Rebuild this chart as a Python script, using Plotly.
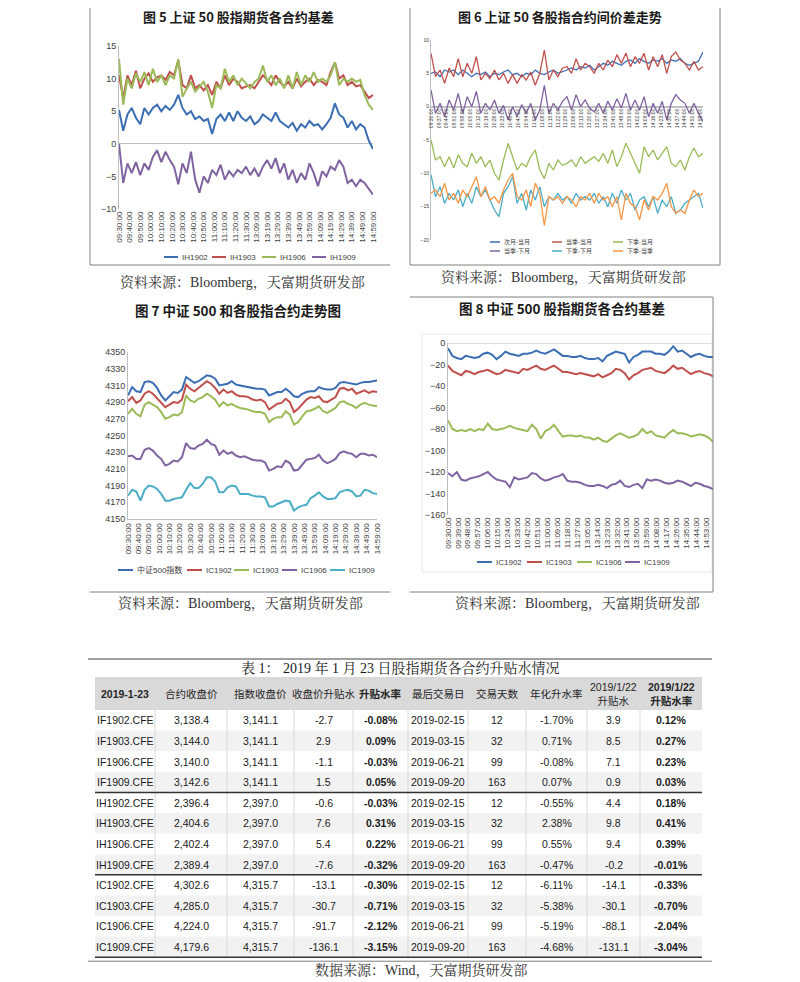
import plotly.graph_objects as go

# The page body has an 8px margin, so the figure is drawn 8px in from the top-left corner.
OFF = 8
W, H = 800 - OFF, 982 - OFF

# ---------------- data ----------------
sample_minutes = list(range(0, 241, 4))  # minute index of each sample (4-minute sampling)

ticks_10min = ["09:30:00", "09:40:00", "09:50:00", "10:00:00", "10:10:00", "10:20:00", "10:30:00",
               "10:40:00", "10:50:00", "11:00:00", "11:10:00", "11:20:00", "11:30:00", "13:09:00",
               "13:19:00", "13:29:00", "13:39:00", "13:49:00", "13:59:00", "14:09:00", "14:19:00",
               "14:29:00", "14:39:00", "14:49:00", "14:59:00"]
ticks_7min = ["09:30:00", "09:37:00", "09:44:00", "09:51:00", "09:58:00", "10:05:00", "10:12:00",
              "10:19:00", "10:26:00", "10:33:00", "10:40:00", "10:47:00", "10:54:00", "11:01:00",
              "11:08:00", "11:15:00", "11:22:00", "11:29:00", "13:06:00", "13:13:00", "13:20:00",
              "13:27:00", "13:34:00", "13:41:00", "13:48:00", "13:55:00", "14:02:00", "14:09:00",
              "14:16:00", "14:23:00", "14:30:00", "14:37:00", "14:44:00", "14:51:00", "14:58:00"]
ticks_9min = ["09:30:00", "09:39:00", "09:48:00", "09:57:00", "10:06:00", "10:15:00", "10:24:00",
              "10:33:00", "10:42:00", "10:51:00", "11:00:00", "11:09:00", "11:18:00", "11:27:00",
              "13:05:00", "13:14:00", "13:23:00", "13:32:00", "13:41:00", "13:50:00", "13:59:00",
              "14:08:00", "14:17:00", "14:26:00", "14:35:00", "14:44:00", "14:53:00"]

# Fig 5: SSE50 futures basis
fig5_names = ["IH1902", "IH1903", "IH1906", "IH1909"]
ih1902_basis = [5.2, 2.0, 4.5, 5.5, 4.0, 3.0, 5.5, 4.5, 5.5, 6.0, 5.0, 5.8, 5.2, 6.0, 7.5, 5.5, 4.5, 5.0, 3.8, 4.2,
                3.5, 3.8, 1.5, 3.8, 4.5, 3.5, 4.8, 3.5, 5.0, 4.0, 3.5, 4.2, 3.0, 3.5, 4.5, 4.0, 3.5, 4.8, 3.5, 3.0,
                2.5, 3.2, 2.0, 3.0, 2.5, 3.5, 2.8, 3.0, 2.2, 3.0, 4.0, 6.2, 4.5, 4.0, 2.5, 3.5, 2.2, 3.0, 2.5, 0.5,
                -0.8]
ih1903_basis = [10.5, 7.0, 10.5, 9.0, 11.2, 8.5, 10.0, 10.8, 9.5, 10.2, 10.5, 9.8, 11.0, 10.5, 12.8, 9.0, 8.5, 10.5,
                8.5, 9.0, 8.2, 9.0, 7.5, 9.5, 8.5, 10.5, 9.0, 10.0, 9.5, 8.5, 8.8, 9.0, 8.5, 9.5, 10.5, 9.8, 9.0,
                10.5, 9.5, 8.8, 9.5, 8.5, 10.0, 8.8, 9.5, 10.0, 9.0, 9.8, 9.5, 9.0, 11.0, 12.5, 10.0, 10.5, 9.0, 9.5,
                8.8, 9.0, 8.0, 7.0, 7.5]
ih1906_basis = [13.0, 6.0, 10.0, 8.5, 10.8, 9.5, 11.0, 9.0, 11.5, 9.5, 10.5, 9.0, 10.5, 10.0, 13.0, 7.2, 8.5, 9.5,
                8.0, 8.8, 9.5, 8.0, 5.5, 9.0, 8.5, 11.5, 9.5, 10.5, 9.0, 10.0, 9.2, 8.5, 9.5, 10.0, 12.0, 9.5, 10.5,
                9.0, 10.0, 8.5, 10.5, 8.5, 11.0, 9.0, 10.5, 9.5, 11.0, 9.5, 10.0, 9.5, 10.5, 12.5, 9.0, 10.0, 9.5,
                10.0, 9.5, 9.8, 7.5, 6.0, 5.2]
ih1909_basis = [0.0, -6.0, -3.0, -4.5, -2.8, -4.8, -3.0, -4.0, -2.0, -1.0, -2.8, -1.2, -2.5, -3.5, -6.2, -3.0, -4.5,
                -1.2, -5.5, -7.5, -5.0, -6.0, -4.0, -4.8, -3.2, -5.5, -4.2, -5.0, -4.0, -4.5, -3.5, -4.8, -3.8, -5.0,
                -3.5, -2.5, -3.8, -2.2, -4.5, -3.0, -5.5, -4.0, -6.0, -4.5, -5.5, -3.0, -4.5, -6.5, -4.2, -5.0, -3.5,
                -4.0, -2.5, -3.5, -6.0, -5.5, -6.5, -5.5, -6.0, -7.0, -7.8]

# Fig 6: SSE50 inter-contract spreads
fig6_names = ["次月-当月", "当季-当月", "下季-当月", "当季-下月", "下季-下月", "下季-当季"]
spread_next_cur = [5.0, 5.2, 4.5, 5.5, 5.2, 5.5, 4.8, 5.5, 5.0, 4.5, 5.0, 4.8, 5.2, 4.5, 5.0, 4.8, 5.2, 5.5, 4.8,
                   5.0, 4.5, 5.0, 4.8, 5.5, 5.0, 4.8, 5.2, 5.5, 5.0, 5.2, 5.5, 5.8, 5.5, 6.0, 5.8, 6.2, 5.5, 6.0,
                   6.5, 6.2, 6.8, 6.5, 6.2, 6.8, 7.0, 6.5, 7.2, 6.8, 6.5, 7.0, 6.8, 7.2, 6.5, 7.0, 6.8, 7.2, 6.5,
                   6.2, 6.5, 6.8, 8.2]
spread_q_cur = [8.0, 4.5, 5.5, 3.5, 5.8, 4.5, 7.2, 4.5, 6.5, 5.0, 7.5, 4.0, 5.0, 4.2, 5.5, 4.0, 5.0, 3.5, 4.8, 3.5,
                4.8, 4.0, 5.2, 3.2, 5.0, 8.5, 4.0, 5.5, 4.5, 5.8, 6.0, 5.0, 7.2, 5.5, 6.5, 6.0, 5.0, 6.5, 5.5, 7.0,
                6.0, 7.8, 6.5, 8.0, 6.0, 7.5, 6.5, 8.0, 5.5, 7.5, 6.0, 7.8, 5.0, 7.5, 8.2, 7.0, 6.5, 5.5, 6.8, 5.5,
                6.0]
spread_nq_cur = [-5.0, -8.0, -7.5, -9.0, -7.5, -9.2, -7.2, -8.5, -9.0, -7.0, -8.5, -7.5, -9.0, -8.0, -10.0, -11.0,
                 -8.0, -5.5, -7.5, -9.5, -8.5, -9.0, -7.5, -6.5, -9.5, -10.8, -8.5, -9.5, -8.0, -8.8, -8.5, -8.0,
                 -9.0, -7.5, -8.5, -8.0, -7.5, -8.2, -7.0, -8.5, -6.5, -9.0, -7.5, -5.5, -7.0, -8.5, -10.0, -6.0,
                 -7.5, -6.5, -8.0, -7.0, -6.0, -8.5, -9.0, -8.0, -9.5, -7.5, -6.2, -7.5, -7.0]
spread_q_next = [2.5, -1.0, 0.5, -1.5, 1.0, -0.5, 2.0, -1.0, 1.5, 0.0, 2.3, -1.0, 0.5, -0.5, 1.0, -1.0, 0.2, -2.0,
                 0.0, -1.5, 0.3, -1.0, 0.5, -2.0, -0.5, 3.2, -1.0, 0.5, -0.5, 0.8, 1.5, -0.5, 1.8, 0.0, 1.0, -0.2,
                 -0.8, 0.5, -1.0, 0.8, -0.5, 1.2, -0.2, 2.0, -0.5, 1.0, -0.5, 1.5, -1.5, 0.5, -1.0, 0.8, -2.0, 0.5,
                 1.8, 1.0, 0.5, -1.0, 0.5, -1.0, -2.2]
spread_nq_next = [-10.2, -13.5, -12.0, -14.5, -13.0, -14.0, -12.5, -15.0, -13.0, -14.5, -12.0, -13.5, -12.5, -14.0,
                  -15.5, -16.5, -13.0, -12.0, -10.5, -14.5, -13.0, -15.5, -12.5, -14.0, -12.0, -15.0, -13.5, -14.0,
                  -13.0, -14.0, -13.5, -14.5, -13.0, -14.0, -13.5, -14.0, -13.0, -14.5, -13.5, -15.0, -13.0, -14.5,
                  -12.5, -14.0, -13.0, -15.5, -14.0, -13.5, -15.0, -13.5, -16.0, -14.0, -15.0, -13.5, -16.0, -15.5,
                  -14.5, -14.0, -13.5, -13.0, -15.2]
spread_nq_q = [-13.0, -12.5, -13.5, -11.5, -14.0, -13.0, -14.5, -12.5, -13.5, -12.0, -10.5, -13.5, -12.0, -14.0,
               -13.5, -14.5, -12.5, -11.0, -10.0, -13.5, -14.0, -12.5, -15.0, -11.5, -13.0, -17.8, -13.5, -14.0,
               -13.5, -14.5, -13.5, -14.0, -15.0, -13.5, -14.0, -13.0, -14.5, -13.0, -14.0, -13.5, -15.0, -13.5,
               -17.0, -13.0, -14.5, -15.0, -17.0, -14.0, -15.5, -13.5, -14.0, -13.0, -11.5, -15.0, -16.0, -15.5,
               -16.0, -14.0, -12.5, -13.5, -13.0]

# Fig 7: CSI500 index and IC contracts
fig7_names = ["中证500指数", "IC1902", "IC1903", "IC1906", "IC1909"]
csi500 = [4298, 4308, 4303, 4302, 4314, 4315, 4313, 4307, 4298, 4292, 4297, 4302, 4301, 4305, 4320, 4316, 4313, 4315,
          4318, 4322, 4321, 4318, 4310, 4311, 4312, 4315, 4311, 4310, 4309, 4308, 4307, 4306, 4306, 4305, 4298, 4300,
          4302, 4302, 4306, 4302, 4297, 4296, 4300, 4302, 4303, 4303, 4308, 4306, 4305, 4305, 4307, 4313, 4314, 4313,
          4312, 4311, 4313, 4314, 4314, 4315, 4316]
ic1902_px = [4291, 4296, 4289, 4292, 4300, 4303, 4300, 4295, 4290, 4284, 4287, 4290, 4289, 4293, 4311, 4306, 4303,
             4307, 4310, 4315, 4312, 4307, 4300, 4305, 4301, 4303, 4299, 4297, 4297, 4296, 4293, 4292, 4293, 4290,
             4281, 4285, 4288, 4289, 4294, 4290, 4278, 4282, 4288, 4293, 4296, 4295, 4297, 4291, 4290, 4293, 4296,
             4306, 4307, 4304, 4306, 4300, 4302, 4304, 4301, 4303, 4302]
ic1903_px = [4276, 4282, 4276, 4273, 4287, 4290, 4287, 4284, 4278, 4270, 4272, 4275, 4274, 4278, 4298, 4292, 4290,
             4294, 4296, 4300, 4297, 4293, 4285, 4290, 4286, 4288, 4285, 4283, 4282, 4281, 4279, 4278, 4278, 4276,
             4266, 4270, 4272, 4272, 4279, 4275, 4263, 4266, 4273, 4279, 4280, 4282, 4285, 4279, 4277, 4280, 4283,
             4290, 4291, 4288, 4286, 4283, 4287, 4289, 4287, 4286, 4285]
ic1906_px = [4225, 4226, 4222, 4222, 4233, 4235, 4232, 4226, 4222, 4214, 4216, 4220, 4219, 4224, 4241, 4235, 4234,
             4238, 4240, 4245, 4240, 4238, 4227, 4232, 4228, 4230, 4226, 4224, 4225, 4223, 4221, 4220, 4220, 4218,
             4208, 4210, 4213, 4212, 4220, 4217, 4208, 4209, 4215, 4221, 4222, 4223, 4227, 4220, 4217, 4219, 4222,
             4229, 4231, 4229, 4228, 4224, 4228, 4228, 4226, 4227, 4224]
ic1909_px = [4178, 4185, 4183, 4172, 4185, 4190, 4189, 4186, 4180, 4172, 4172, 4174, 4175, 4176, 4185, 4193, 4187,
             4187, 4192, 4200, 4200, 4195, 4182, 4182, 4188, 4190, 4189, 4180, 4180, 4180, 4178, 4177, 4177, 4176,
             4165, 4165, 4168, 4170, 4172, 4171, 4160, 4164, 4166, 4167, 4175, 4178, 4182, 4177, 4174, 4174, 4175,
             4182, 4184, 4185, 4183, 4177, 4178, 4185, 4184, 4181, 4180]

# Fig 8: CSI500 futures basis
fig8_names = ["IC1902", "IC1903", "IC1906", "IC1909"]
ic1902_basis = [-5, -12, -14, -15, -12, -13, -14, -13, -10, -9, -11, -15, -12, -8, -10, -11, -12, -10, -10, -9, -7,
                -9, -10, -8, -6, -9, -12, -12, -13, -13, -12, -14, -15, -15, -14, -17, -12, -10, -8, -9, -10, -18,
                -13, -11, -8, -8, -8, -10, -10, -11, -8, -3, -8, -7, -10, -13, -11, -10, -12, -13, -13]
ic1903_basis = [-21, -26, -28, -30, -26, -27, -29, -27, -26, -25, -27, -29, -28, -25, -26, -27, -28, -24, -25, -23,
                -21, -24, -25, -23, -21, -24, -27, -27, -28, -29, -28, -29, -30, -31, -29, -32, -30, -28, -24, -25,
                -28, -34, -30, -28, -25, -24, -23, -26, -27, -28, -25, -21, -24, -23, -26, -29, -27, -26, -28, -29,
                -31]
ic1906_basis = [-72, -80, -82, -81, -82, -80, -82, -80, -81, -75, -80, -81, -80, -79, -77, -79, -80, -81, -82, -76,
                -80, -89, -82, -80, -76, -82, -87, -86, -86, -87, -86, -88, -88, -90, -88, -91, -92, -89, -86, -84,
                -86, -88, -87, -85, -80, -84, -82, -86, -87, -88, -84, -81, -84, -84, -85, -87, -86, -85, -86, -88,
                -92]
ic1909_basis = [-121, -124, -120, -127, -128, -126, -125, -124, -122, -120, -124, -127, -128, -129, -134, -125, -127,
                -126, -125, -121, -122, -126, -128, -127, -125, -124, -122, -128, -129, -129, -130, -132, -133, -133,
                -132, -133, -135, -132, -131, -128, -133, -134, -132, -131, -135, -127, -128, -127, -128, -130, -131,
                -130, -128, -129, -131, -133, -130, -131, -133, -134, -136]

# Table 1
table_header = ["<b>2019-1-23</b>", "合约收盘价", "指数收盘价", "收盘价升贴水", "<b>升贴水率</b>", "最后交易日",
                "交易天数", "年化升水率", "2019/1/22<br>升贴水", "<b>2019/1/22<br>升贴水率</b>"]
contracts = ["IF1902.CFE", "IF1903.CFE", "IF1906.CFE", "IF1909.CFE", "IH1902.CFE", "IH1903.CFE", "IH1906.CFE",
             "IH1909.CFE", "IC1902.CFE", "IC1903.CFE", "IC1906.CFE", "IC1909.CFE"]
contract_close = ["3,138.4", "3,144.0", "3,140.0", "3,142.6", "2,396.4", "2,404.6", "2,402.4", "2,389.4",
                  "4,302.6", "4,285.0", "4,224.0", "4,179.6"]
index_close = ["3,141.1", "3,141.1", "3,141.1", "3,141.1", "2,397.0", "2,397.0", "2,397.0", "2,397.0",
               "4,315.7", "4,315.7", "4,315.7", "4,315.7"]
close_basis = ["-2.7", "2.9", "-1.1", "1.5", "-0.6", "7.6", "5.4", "-7.6", "-13.1", "-30.7", "-91.7", "-136.1"]
basis_rate = ["-0.08%", "0.09%", "-0.03%", "0.05%", "-0.03%", "0.31%", "0.22%", "-0.32%", "-0.30%", "-0.71%",
              "-2.12%", "-3.15%"]
last_trade_day = ["2019-02-15", "2019-03-15", "2019-06-21", "2019-09-20"] * 3
trade_days = ["12", "32", "99", "163"] * 3
annual_rate = ["-1.70%", "0.71%", "-0.08%", "0.07%", "-0.55%", "2.38%", "0.55%", "-0.47%", "-6.11%", "-5.38%",
               "-5.19%", "-4.68%"]
prev_basis = ["3.9", "8.5", "7.1", "0.9", "4.4", "9.8", "9.4", "-0.2", "-14.1", "-30.1", "-88.1", "-131.1"]
prev_rate = ["0.12%", "0.27%", "0.23%", "0.03%", "0.18%", "0.41%", "0.39%", "-0.01%", "-0.33%", "-0.70%",
             "-2.04%", "-3.04%"]

# ---------------- styling ----------------
BLUE, RED, GREEN, PURPLE, AQUA, ORANGE = "#3C6EB4", "#C0504D", "#9BBB59", "#8064A2", "#4BACC6", "#F79646"
AX = "#BFBFBF"
TXT = "#404040"
SANS = "Liberation Sans, Arial, Noto Sans CJK SC, sans-serif"
NARROW = "Liberation Sans Narrow, Arial Narrow, Liberation Sans, Noto Sans CJK SC, sans-serif"
SERIF = "Liberation Serif, Noto Serif CJK SC, Noto Sans CJK SC, serif"


def px(x):
    return (x - OFF) / W


def py(y):
    return 1 - (y - OFF) / H


fig = go.Figure()


def add_lines(series, colors, xa, ya, width):
    for vals, col in zip(series, colors):
        fig.add_trace(go.Scatter(x=sample_minutes, y=vals, mode="lines", xaxis=xa, yaxis=ya,
                                 line=dict(color=col, width=width), showlegend=False, hoverinfo="skip"))


add_lines([ih1902_basis, ih1903_basis, ih1906_basis, ih1909_basis], [BLUE, RED, GREEN, PURPLE], "x", "y", 2)
add_lines([spread_next_cur, spread_q_cur, spread_nq_cur, spread_q_next, spread_nq_next, spread_nq_q],
          [BLUE, RED, GREEN, PURPLE, AQUA, ORANGE], "x2", "y2", 1.3)
add_lines([csi500, ic1902_px, ic1903_px, ic1906_px, ic1909_px], [BLUE, RED, GREEN, PURPLE, AQUA], "x3", "y3", 2)
add_lines([ic1902_basis, ic1903_basis, ic1906_basis, ic1909_basis], [BLUE, RED, GREEN, PURPLE], "x4", "y4", 2)

shapes = []
annotations = []


def hline(x0, x1, y, color="#808080", width=1):
    shapes.append(dict(type="line", xref="paper", yref="paper", x0=px(x0), x1=px(x1), y0=py(y), y1=py(y),
                       line=dict(color=color, width=width), layer="above"))


def vline(x, y0, y1, color="#808080", width=1):
    shapes.append(dict(type="line", xref="paper", yref="paper", x0=px(x), x1=px(x), y0=py(y0), y1=py(y1),
                       line=dict(color=color, width=width), layer="above"))


def rect(x0, x1, y0, y1, fill):
    shapes.append(dict(type="rect", xref="paper", yref="paper", x0=px(x0), x1=px(x1), y0=py(y1), y1=py(y0),
                       fillcolor=fill, line=dict(width=0), layer="below"))


def text(x, y, s, size, family=SANS, color=TXT, anchor="center"):
    annotations.append(dict(x=px(x), y=py(y), xref="paper", yref="paper", text=s, showarrow=False,
                            xanchor=anchor, yanchor="middle", font=dict(size=size, family=family, color=color)))


def legend_item(x0, x1, y, color, label, size, lw=2):
    hline(x0, x1, y, color, lw)
    text(x1 + 2, y, label, size, SANS, TXT, "left")


# ---------------- table 1 (drawn cell by cell) ----------------
col_edges = [95, 155, 227, 294, 353, 408, 468, 526, 587, 640, 702]
table_cols = [contracts, contract_close, index_close, close_basis, basis_rate, last_trade_day, trade_days,
              annual_rate, prev_basis, prev_rate]
bold_cols = {4, 9}
HEADER_H, ROW_H = 33, 20.6
TABLE_TOP = 677
BODY_TOP = TABLE_TOP + HEADER_H
n = len(contracts)
BODY_BOTTOM = BODY_TOP + n * ROW_H

rect(col_edges[0], col_edges[-1], TABLE_TOP, BODY_TOP, "#D9D9D9")
for i in range(n):
    if i % 2 == 1:
        rect(col_edges[0], col_edges[-1], BODY_TOP + i * ROW_H, BODY_TOP + (i + 1) * ROW_H, "#F2F2F2")
for xe in col_edges[1:-1]:
    vline(xe, BODY_TOP, BODY_BOTTOM, "#D9D9D9", 1)
for j, col in enumerate(table_cols):
    cx = (col_edges[j] + col_edges[j + 1]) / 2
    text(cx, TABLE_TOP + HEADER_H / 2, table_header[j], 10.5, NARROW, "#262626")
    for i, v in enumerate(col):
        s = "<b>%s</b>" % v if j in bold_cols else v
        text(cx, BODY_TOP + (i + 0.5) * ROW_H, s, 10.5, NARROW, "#1A1A1A")
for k in (4, 8):
    hline(col_edges[0], col_edges[-1], BODY_TOP + k * ROW_H, "#333333", 1.5)
hline(col_edges[0], col_edges[-1], BODY_BOTTOM, "#333333", 1.5)
hline(88, 712, BODY_BOTTOM + 4, "#808080", 1)
hline(88, 712, 659, "#808080", 1.5)
text(400, 668, "表 1： 2019 年 1 月 23 日股指期货各合约升贴水情况", 14, SERIF, "#1A1A1A")
text(421, 970, "数据来源：Wind，天富期货研发部", 14, SERIF, "#333333")

# ---------------- frames ----------------
vline(90, 0, 265)
hline(90, 390, 265)
vline(410, 0, 265)
vline(720, 0, 265)
hline(410, 720, 265)
hline(90, 390, 592)
hline(410, 713, 297)
vline(713, 297, 592)
hline(410, 713, 592)
shapes.append(dict(type="rect", xref="paper", yref="paper", x0=px(422), x1=px(712), y0=py(572), y1=py(334),
                   line=dict(color="#E6E6E6", width=1), layer="below"))

# titles
TITLE_FONT = "Noto Sans CJK SC, sans-serif"
text(238, 16, "<b>图 5 上证 50 股指期货各合约基差</b>", 13, TITLE_FONT, "#1A1A1A")
text(560, 16, "<b>图 6 上证 50 各股指合约间价差走势</b>", 13, TITLE_FONT, "#1A1A1A")
text(238, 310, "<b>图 7 中证 500 和各股指合约走势图</b>", 13.5, TITLE_FONT, "#1A1A1A")
text(562, 308, "<b>图 8 中证 500 股指期货各合约基差</b>", 13.5, TITLE_FONT, "#1A1A1A")

# sources
SRC = "资料来源：Bloomberg，天富期货研发部"
text(242, 282, SRC, 14, SERIF, "#333333")
text(563, 277, SRC, 14, SERIF, "#333333")
text(240, 603, SRC, 14, SERIF, "#333333")
text(577, 603, SRC, 14, SERIF, "#333333")

# legends
for (x0, name, col) in zip([164, 212, 262, 312], fig5_names, [BLUE, RED, GREEN, PURPLE]):
    legend_item(x0, x0 + 14, 257, col, name, 8)
for (x0, yy, name, col) in zip([490, 552, 613, 490, 552, 613], [242, 242, 242, 251, 251, 251], fig6_names,
                               [BLUE, RED, GREEN, PURPLE, AQUA, ORANGE]):
    legend_item(x0, x0 + 10, yy, col, name, 6, 1.5)
for (x0, name, col) in zip([118, 187, 234, 282, 330], fig7_names, [BLUE, RED, GREEN, PURPLE, AQUA]):
    legend_item(x0, x0 + 15, 570, col, name, 8)
for (x0, name, col) in zip([477, 527, 577, 625], fig8_names, [BLUE, RED, GREEN, PURPLE]):
    legend_item(x0, x0 + 15, 562, col, name, 8)

# zero line for fig 8 (top edge)
shapes.append(dict(type="line", xref="x4 domain", yref="y4", x0=0, x1=1, y0=0, y1=0,
                   line=dict(color=AX, width=1)))

# ---------------- axes ----------------
y6_dom = [py(240), py(40)]
x_common = dict(range=[0, 240], showgrid=False, zeroline=False, ticks="", tickangle=-90,
                tickfont=dict(size=8, color=TXT, family=SANS))
y_common = dict(showgrid=False, ticks="", showline=True, linecolor=AX, linewidth=1,
                tickfont=dict(size=9, color=TXT, family=SANS))

fig.update_layout(
    width=W, height=H, margin=dict(l=0, r=0, t=0, b=0, autoexpand=False),
    paper_bgcolor="white", plot_bgcolor="white", showlegend=False,
    xaxis=dict(domain=[px(119), px(373)], anchor="y", tickvals=[i * 10 for i in range(len(ticks_10min))],
               ticktext=ticks_10min, showline=False, **x_common),
    yaxis=dict(domain=[py(209), py(46)], anchor="x", range=[-10, 15], dtick=5, zeroline=True,
               zerolinecolor=AX, zerolinewidth=1, **y_common),
    xaxis2=dict(domain=[px(431), px(703)], anchor="free",
                position=y6_dom[0] + (20 / 30) * (y6_dom[1] - y6_dom[0]),
                tickvals=[i * 7 for i in range(len(ticks_7min))], ticktext=ticks_7min,
                showline=False, range=[0, 240], showgrid=False, zeroline=False, ticks="", tickangle=-90,
                tickfont=dict(size=5, color=TXT, family=SANS)),
    yaxis2=dict(domain=y6_dom, anchor="x2", range=[-20, 10], dtick=5, zeroline=True, zerolinecolor=AX,
                zerolinewidth=1.5, showgrid=False, ticks="", showline=True, linecolor=AX, linewidth=1,
                tickfont=dict(size=5, color=TXT, family=SANS)),
    xaxis3=dict(domain=[px(128), px(377)], anchor="y3", tickvals=[i * 10 for i in range(len(ticks_10min))],
                ticktext=ticks_10min, showline=True, linecolor=AX, linewidth=1, **x_common),
    yaxis3=dict(domain=[py(519), py(352)], anchor="x3", range=[4150, 4350], tick0=4150, dtick=20,
                zeroline=False, **y_common),
    xaxis4=dict(domain=[px(448), px(713)], anchor="y4", tickvals=[i * 9 for i in range(len(ticks_9min))],
                ticktext=ticks_9min, showline=False, **x_common),
    yaxis4=dict(domain=[py(515), py(343)], anchor="x4", range=[-160, 0], dtick=20, zeroline=False,
                **y_common),
    shapes=shapes, annotations=annotations,
)

fig.write_html("out.html")
